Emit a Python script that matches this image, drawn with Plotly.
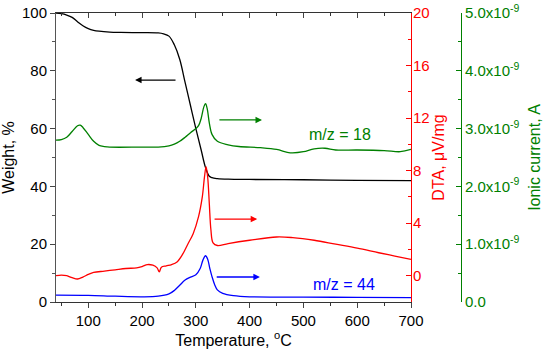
import plotly.graph_objects as go

# ---------------- data ----------------
t_weight = [40, 50, 60, 70, 80, 90, 100, 110, 120, 140, 160, 200, 230, 240, 250, 260, 270, 280, 290, 300, 310, 318, 325, 330, 340, 360, 400, 500, 600, 700]
weight = [100, 99.8, 99.3, 98.5, 97.0, 95.6, 94.6, 94.0, 93.7, 93.4, 93.3, 93.2, 93.1, 92.8, 92.0, 89.0, 84.0, 76.0, 68.0, 60.0, 52.5, 46.5, 43.5, 43.0, 42.7, 42.5, 42.4, 42.3, 42.1, 42.0]

t_m18 = [40, 50, 60, 70, 80, 85, 90, 100, 110, 120, 130, 140, 200, 230, 250, 260, 270, 280, 290, 300, 305, 310, 315, 318, 321, 325, 330, 340, 360, 380, 420, 450, 470, 480, 500, 520, 540, 560, 600, 650, 680, 700]
m18 = [2.80, 2.81, 2.85, 2.95, 3.05, 3.06, 3.02, 2.90, 2.78, 2.71, 2.69, 2.68, 2.68, 2.68, 2.70, 2.73, 2.78, 2.85, 2.93, 3.00, 3.05, 3.18, 3.38, 3.43, 3.35, 3.10, 2.90, 2.78, 2.72, 2.69, 2.67, 2.64, 2.59, 2.58, 2.60, 2.65, 2.66, 2.63, 2.63, 2.62, 2.60, 2.64]

t_dta = [40, 50, 60, 70, 80, 90, 100, 110, 130, 150, 170, 190, 200, 210, 220, 228, 232, 236, 245, 255, 265, 275, 285, 295, 305, 312, 316, 319, 322, 325, 328, 332, 340, 360, 400, 450, 480, 520, 560, 600, 640, 670, 700]
dta = [0.0, 0.05, 0.0, -0.15, -0.25, -0.1, 0.1, 0.25, 0.35, 0.45, 0.55, 0.6, 0.7, 0.85, 0.8, 0.6, 0.3, 0.65, 0.75, 0.85, 1.05, 1.6, 2.4, 3.2, 4.5, 6.0, 7.5, 8.3, 7.5, 5.5, 3.5, 2.5, 2.3, 2.45, 2.7, 2.95, 2.9, 2.7, 2.4, 2.1, 1.75, 1.5, 1.25]

t_m44 = [40, 100, 150, 200, 230, 250, 260, 270, 280, 290, 300, 308, 313, 318, 322, 326, 330, 335, 340, 350, 370, 400, 500, 600, 700]
m44 = [0.12, 0.115, 0.10, 0.09, 0.10, 0.14, 0.20, 0.29, 0.38, 0.43, 0.47, 0.58, 0.72, 0.80, 0.74, 0.58, 0.44, 0.30, 0.21, 0.15, 0.11, 0.09, 0.085, 0.08, 0.075]

ion_ticks = [0, 1, 2, 3, 4, 5]
ion_ticktext = ["0.0", "1.0x10<sup>-9</sup>", "2.0x10<sup>-9</sup>", "3.0x10<sup>-9</sup>", "4.0x10<sup>-9</sup>", "5.0x10<sup>-9</sup>"]

BLACK, RED, GREEN, BLUE = "#000000", "#ff0000", "#008000", "#0000ff"
FONT = "Liberation Sans, Arial, sans-serif"

fig = go.Figure()
fig.add_trace(go.Scatter(x=t_m18, y=m18, yaxis="y3", mode="lines", line=dict(color=GREEN, width=1.3, shape="spline"), showlegend=False))
fig.add_trace(go.Scatter(x=t_m44, y=m44, yaxis="y3", mode="lines", line=dict(color=BLUE, width=1.3, shape="spline"), showlegend=False))
fig.add_trace(go.Scatter(x=t_dta, y=dta, yaxis="y2", mode="lines", line=dict(color=RED, width=1.3, shape="spline"), showlegend=False))
fig.add_trace(go.Scatter(x=t_weight, y=weight, yaxis="y", mode="lines", line=dict(color=BLACK, width=1.3, shape="spline"), showlegend=False))
# dummy trace for top axis
fig.add_trace(go.Scatter(x=[40, 700], y=[None, None], xaxis="x2", yaxis="y", mode="lines", showlegend=False, hoverinfo="skip"))

dom = (411 - 56) / (461 - 56)

fig.update_layout(
    width=550, height=355,
    margin=dict(l=56, r=89, t=13, b=53, autoexpand=False),
    paper_bgcolor="white", plot_bgcolor="white",
    font=dict(family=FONT, size=15, color="black"),
    xaxis=dict(domain=[0, dom], range=[40, 700], tickvals=[100, 200, 300, 400, 500, 600, 700],
               ticks="outside", ticklen=5, tickwidth=1, showline=True, linecolor="#333", linewidth=1,
               showgrid=False, zeroline=False, automargin=False, ticklabeloverflow="allow",
               minor=dict(tickvals=[50, 150, 250, 350, 450, 550, 650], ticks="outside", ticklen=3, tickcolor="#333"),
               title=dict(text="Temperature, <sup>o</sup>C", font=dict(size=16), standoff=6),
               anchor="y"),
    xaxis2=dict(domain=[0, dom], range=[40, 700], overlaying="x", side="top", anchor="y",
                tickvals=[100, 200, 300, 400, 500, 600, 700], ticks="inside", ticklen=5, automargin=False,
                showticklabels=False, showline=True, linecolor="#333", showgrid=False, zeroline=False,
                minor=dict(tickvals=[50, 150, 250, 350, 450, 550, 650], ticks="inside", ticklen=3, tickcolor="#333")),
    yaxis=dict(range=[0, 100], tickvals=[0, 20, 40, 60, 80, 100], ticks="outside", ticklen=5,
               showline=True, linecolor="#555", linewidth=1, showgrid=False, zeroline=False, automargin=False,
               ticklabeloverflow="allow",
               minor=dict(tickvals=[10, 30, 50, 70, 90], ticks="outside", ticklen=3, tickcolor="#555"),
               title=dict(text="Weight, %", font=dict(size=16), standoff=8)),
    yaxis2=dict(range=[-2, 20], overlaying="y", side="right", anchor="x",
                tickvals=[0, 4, 8, 12, 16, 20], ticks="inside", ticklen=5, tickcolor=RED,
                showline=True, linecolor=RED, linewidth=1, showgrid=False, zeroline=False, automargin=False,
                tickfont=dict(color=RED), ticklabelstandoff=-2, ticklabeloverflow="allow",
                minor=dict(tickvals=[-2, 2, 6, 10, 14, 18], ticks="inside", ticklen=3, tickcolor=RED),
                title=dict(text="DTA, μV/mg", font=dict(size=16, color=RED), standoff=4)),
    yaxis3=dict(range=[0, 5], overlaying="y", side="right", anchor="free", position=1.0,
                tickvals=ion_ticks, ticktext=ion_ticktext, ticks="inside", ticklen=5, tickcolor=GREEN,
                showline=True, linecolor=GREEN, linewidth=1, showgrid=False, zeroline=False, automargin=False,
                tickfont=dict(color=GREEN, size=15), ticklabeloverflow="allow",
                minor=dict(tickvals=[0.5, 1.5, 2.5, 3.5, 4.5], ticks="inside", ticklen=3, tickcolor=GREEN),
                title=dict(text="Ionic current, A", font=dict(size=16, color=GREEN), standoff=10)),
)

arrows = [
    (187, 265, 76.8, BLACK),
    (423, 341, 63.0, GREEN),
    (414, 332, 28.7, RED),
    (419, 336, 8.65, BLUE),
]
for head, tail, yy, col in arrows:
    fig.add_annotation(x=head, y=yy, ax=tail, ay=yy, xref="x", yref="y", axref="x", ayref="y",
                       text="", showarrow=True, arrowhead=2, arrowsize=1, arrowwidth=1.3, arrowcolor=col)

fig.add_annotation(x=568, y=57.8, xref="x", yref="y", text="m/z = 18", showarrow=False,
                   font=dict(size=16, color=GREEN))
fig.add_annotation(x=575, y=5.9, xref="x", yref="y", text="m/z = 44", showarrow=False,
                   font=dict(size=16, color=BLUE))

fig.write_html("out.html", config={"displayModeBar": False},
               post_script="document.body.style.margin='0';document.body.style.overflow='hidden';")
